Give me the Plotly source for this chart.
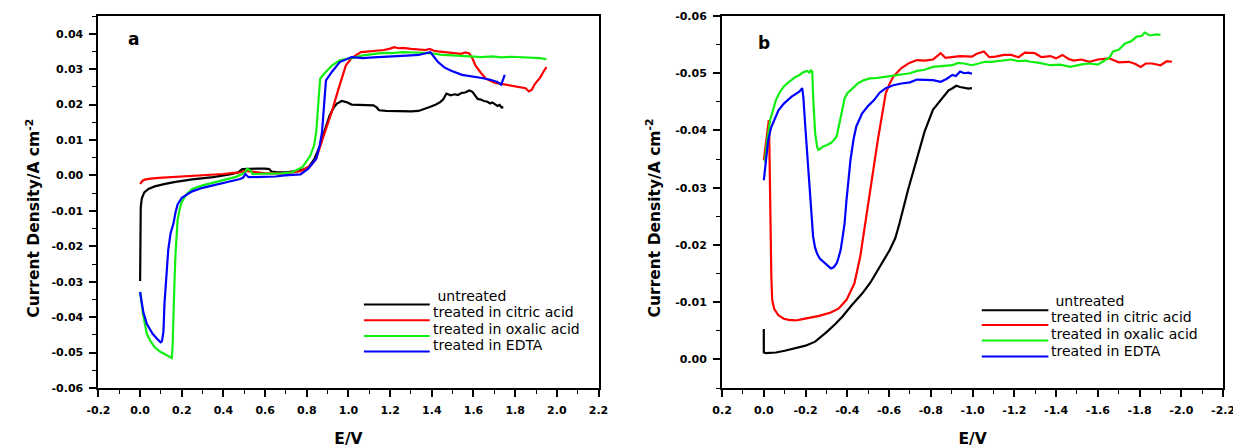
import plotly.graph_objects as go

# ---------------- data: panel a (anodic) ----------------
E_untreated_a = [0.0, 0.0, 0.001, 0.003, 0.008, 0.02, 0.04, 0.07, 0.12, 0.17, 0.25, 0.35, 0.43, 0.47, 0.49, 0.52, 0.56, 0.6, 0.62, 0.63, 0.66, 0.7, 0.75, 0.79, 0.81, 0.835, 0.85, 0.864, 0.883, 0.9, 0.91, 0.93, 0.945, 0.968, 0.99, 1.015, 1.05, 1.09, 1.12, 1.135, 1.147, 1.18, 1.22, 1.26, 1.3, 1.336, 1.36, 1.39, 1.42, 1.44, 1.455, 1.47, 1.49, 1.51, 1.525, 1.545, 1.56, 1.58, 1.595, 1.61, 1.62, 1.635, 1.65, 1.667, 1.68, 1.69, 1.705, 1.715, 1.725, 1.735, 1.743]
J_untreated_a = [-0.0298, -0.018, -0.012, -0.009, -0.0065, -0.0048, -0.0038, -0.0031, -0.0024, -0.0018, -0.0011, -0.0005, 0.0003, 0.0008, 0.0018, 0.0019, 0.0019, 0.0019, 0.0018, 0.0011, 0.0009, 0.0009, 0.0012, 0.0018, 0.0024, 0.0045, 0.0065, 0.0085, 0.0122, 0.015, 0.017, 0.0192, 0.0203, 0.021, 0.0207, 0.02, 0.0199, 0.0199, 0.0198, 0.0192, 0.0184, 0.0182, 0.0181, 0.0182, 0.0181, 0.0182, 0.0186, 0.0193, 0.02, 0.0207, 0.0215, 0.0231, 0.0226, 0.0229, 0.0227, 0.0233, 0.0234, 0.024, 0.0236, 0.0225, 0.0216, 0.0214, 0.021, 0.0208, 0.0203, 0.0206, 0.02, 0.0196, 0.0199, 0.0192, 0.0193]

E_citric_a = [0.0, 0.005, 0.012, 0.023, 0.05, 0.09, 0.15, 0.22, 0.3, 0.35, 0.4, 0.45, 0.48, 0.505, 0.54, 0.6, 0.69, 0.77, 0.82, 0.845, 0.88, 0.92, 0.95, 0.987, 1.015, 1.04, 1.06, 1.1, 1.14, 1.17, 1.2, 1.22, 1.24, 1.26, 1.3, 1.34, 1.37, 1.39, 1.41, 1.43, 1.47, 1.51, 1.54, 1.56, 1.58, 1.595, 1.61, 1.635, 1.66, 1.7, 1.755, 1.8, 1.83, 1.85, 1.866, 1.88, 1.894, 1.91, 1.92, 1.935, 1.95]
J_citric_a = [-0.0024, -0.0019, -0.0015, -0.0012, -0.0009, -0.0007, -0.0005, -0.0003, -0.0001, 0.0002, 0.0004, 0.0007, 0.0009, 0.0013, 0.001, 0.0006, 0.0006, 0.0012, 0.0028, 0.0047, 0.011, 0.018, 0.024, 0.031, 0.0331, 0.034, 0.0348, 0.035, 0.0352, 0.0354, 0.0358, 0.0362, 0.0359, 0.036, 0.0357, 0.0356, 0.0354, 0.0357, 0.0352, 0.035, 0.0347, 0.0346, 0.0343, 0.0347, 0.0344, 0.033, 0.031, 0.029, 0.0273, 0.0262, 0.0256, 0.0253, 0.025, 0.0246, 0.0237, 0.0242, 0.0258, 0.0268, 0.0276, 0.0292, 0.0306]

E_oxalic_a = [0.0, 0.015, 0.032, 0.05, 0.07, 0.095, 0.117, 0.135, 0.146, 0.152, 0.156, 0.16, 0.165, 0.17, 0.175, 0.18, 0.19, 0.2, 0.22, 0.25, 0.3, 0.38, 0.46, 0.49, 0.505, 0.514, 0.53, 0.54, 0.56, 0.618, 0.68, 0.73, 0.78, 0.817, 0.835, 0.845, 0.855, 0.864, 0.883, 0.9, 0.92, 0.958, 1.015, 1.07, 1.12, 1.166, 1.21, 1.26, 1.31, 1.374, 1.42, 1.45, 1.5, 1.545, 1.6, 1.64, 1.69, 1.733, 1.78, 1.83, 1.88, 1.92, 1.95]
J_oxalic_a = [-0.0329, -0.0395, -0.0447, -0.0468, -0.0485, -0.0497, -0.0504, -0.051, -0.0513, -0.0515, -0.048, -0.038, -0.03, -0.022, -0.016, -0.0125, -0.0095, -0.0075, -0.0055, -0.0038, -0.0028, -0.0016, -0.0004, 0.0004, 0.001, 0.0019, 0.0014, 0.0004, 0.0004, 0.0005, 0.0006, 0.0009, 0.0024, 0.0056, 0.0085, 0.0122, 0.02, 0.0273, 0.0287, 0.0297, 0.031, 0.0325, 0.0331, 0.0339, 0.0342, 0.0346, 0.0345, 0.0348, 0.0347, 0.0346, 0.0343, 0.034, 0.0339, 0.0337, 0.0335, 0.0334, 0.0336, 0.0333, 0.0335, 0.0334, 0.0333, 0.0331, 0.0328]

E_edta_a = [0.0, 0.015, 0.032, 0.06, 0.08, 0.098, 0.105, 0.112, 0.117, 0.122, 0.127, 0.135, 0.146, 0.16, 0.17, 0.18, 0.2, 0.25, 0.3, 0.35, 0.4, 0.45, 0.48, 0.495, 0.505, 0.52, 0.58, 0.65, 0.694, 0.77, 0.807, 0.845, 0.862, 0.873, 0.883, 0.892, 0.92, 0.958, 1.015, 1.07, 1.12, 1.166, 1.21, 1.26, 1.3, 1.336, 1.374, 1.393, 1.41, 1.43, 1.46, 1.49, 1.545, 1.6, 1.64, 1.68, 1.715, 1.733, 1.742, 1.75]
J_edta_a = [-0.0329, -0.0385, -0.0419, -0.0447, -0.046, -0.0471, -0.0468, -0.044, -0.0362, -0.031, -0.0258, -0.021, -0.0164, -0.0136, -0.0104, -0.0082, -0.0063, -0.0045, -0.0035, -0.0028, -0.0021, -0.0015, -0.001, -0.0006, 0.0004, -0.0005, -0.0005, -0.0003, 0.0, 0.0003, 0.0019, 0.0047, 0.0085, 0.0122, 0.02, 0.0268, 0.0292, 0.032, 0.0334, 0.0331, 0.0333, 0.0334, 0.0335, 0.0337, 0.0339, 0.034, 0.0344, 0.0348, 0.0335, 0.032, 0.0305, 0.0296, 0.0284, 0.028, 0.0275, 0.027, 0.0264, 0.0256, 0.027, 0.0284]

# ---------------- data: panel b (cathodic) ----------------
E_untreated_b = [0.0, 0.0, -0.01, -0.058, -0.1, -0.152, -0.2, -0.246, -0.27, -0.302, -0.34, -0.377, -0.42, -0.471, -0.51, -0.546, -0.575, -0.603, -0.63, -0.65, -0.69, -0.734, -0.77, -0.81, -0.847, -0.87, -0.885, -0.9, -0.922, -0.94, -0.96, -0.98, -0.997]
J_untreated_b = [-0.0053, -0.0012, -0.0011, -0.0012, -0.0015, -0.0019, -0.0024, -0.0031, -0.0038, -0.0048, -0.0061, -0.0075, -0.0094, -0.0115, -0.0134, -0.0156, -0.0172, -0.0191, -0.0212, -0.0238, -0.0295, -0.0354, -0.0398, -0.0436, -0.0453, -0.0462, -0.047, -0.0473, -0.0478, -0.0476, -0.0475, -0.0473, -0.0474]

E_citric_b = [0.0, -0.01, -0.018, -0.024, -0.026, -0.028, -0.03, -0.033, -0.036, -0.04, -0.05, -0.07, -0.096, -0.12, -0.152, -0.18, -0.208, -0.265, -0.321, -0.359, -0.396, -0.434, -0.462, -0.486, -0.509, -0.546, -0.584, -0.603, -0.622, -0.659, -0.697, -0.734, -0.77, -0.81, -0.83, -0.847, -0.87, -0.903, -0.94, -0.997, -1.02, -1.054, -1.08, -1.11, -1.15, -1.185, -1.22, -1.25, -1.298, -1.33, -1.373, -1.4, -1.43, -1.46, -1.485, -1.52, -1.56, -1.6, -1.654, -1.7, -1.748, -1.78, -1.805, -1.83, -1.86, -1.9, -1.93, -1.955]
J_citric_b = [-0.0348, -0.0375, -0.0405, -0.0418, -0.039, -0.033, -0.026, -0.019, -0.0145, -0.0104, -0.0088, -0.0077, -0.0071, -0.0069, -0.0068, -0.007, -0.0072, -0.0076, -0.0082, -0.0089, -0.0104, -0.0133, -0.018, -0.0238, -0.0302, -0.0383, -0.0465, -0.0482, -0.0495, -0.0509, -0.0518, -0.0523, -0.0522, -0.0524, -0.053, -0.0535, -0.0527, -0.0528, -0.053, -0.0529, -0.0534, -0.0538, -0.0528, -0.0529, -0.0532, -0.0532, -0.0528, -0.0536, -0.0535, -0.0528, -0.053, -0.0526, -0.0532, -0.0525, -0.0522, -0.0524, -0.052, -0.0524, -0.0526, -0.0519, -0.052, -0.0516, -0.0511, -0.0517, -0.0517, -0.0514, -0.0521, -0.052]

E_oxalic_b = [-0.005, -0.015, -0.03, -0.045, -0.058, -0.075, -0.096, -0.115, -0.133, -0.15, -0.171, -0.19, -0.208, -0.218, -0.225, -0.232, -0.237, -0.246, -0.255, -0.261, -0.27, -0.284, -0.3, -0.321, -0.335, -0.349, -0.358, -0.368, -0.387, -0.4, -0.415, -0.453, -0.48, -0.509, -0.545, -0.584, -0.62, -0.659, -0.7, -0.734, -0.77, -0.81, -0.85, -0.903, -0.93, -0.96, -0.997, -1.03, -1.06, -1.09, -1.13, -1.185, -1.22, -1.25, -1.279, -1.32, -1.373, -1.42, -1.467, -1.5, -1.53, -1.56, -1.6, -1.636, -1.655, -1.673, -1.7, -1.73, -1.76, -1.786, -1.81, -1.824, -1.85, -1.88, -1.9]
J_oxalic_b = [-0.0345, -0.038, -0.0418, -0.0438, -0.0453, -0.0466, -0.0477, -0.0483, -0.0488, -0.0493, -0.0497, -0.0502, -0.0504, -0.0501, -0.0505, -0.0503, -0.0453, -0.0395, -0.0372, -0.0366, -0.0368, -0.0372, -0.0374, -0.0378, -0.0383, -0.039, -0.0405, -0.0424, -0.0456, -0.0465, -0.047, -0.0483, -0.0488, -0.0491, -0.0492, -0.0494, -0.0497, -0.0499, -0.05, -0.0504, -0.0506, -0.0511, -0.0512, -0.0514, -0.0518, -0.0517, -0.0514, -0.0517, -0.052, -0.052, -0.0522, -0.0524, -0.0521, -0.0522, -0.052, -0.0518, -0.0514, -0.0515, -0.0511, -0.0514, -0.0516, -0.0517, -0.0515, -0.0523, -0.0527, -0.0538, -0.0541, -0.0552, -0.0556, -0.0564, -0.0565, -0.0571, -0.0566, -0.0568, -0.0567]

E_edta_b = [0.0, -0.01, -0.021, -0.035, -0.049, -0.07, -0.096, -0.115, -0.133, -0.15, -0.171, -0.184, -0.19, -0.2, -0.21, -0.22, -0.227, -0.236, -0.245, -0.255, -0.268, -0.284, -0.3, -0.321, -0.335, -0.349, -0.358, -0.368, -0.378, -0.387, -0.396, -0.405, -0.415, -0.43, -0.443, -0.471, -0.5, -0.528, -0.555, -0.584, -0.62, -0.659, -0.7, -0.734, -0.77, -0.81, -0.847, -0.875, -0.903, -0.92, -0.94, -0.96, -0.98, -0.997]
J_edta_b = [-0.0313, -0.035, -0.0383, -0.0405, -0.0418, -0.0435, -0.0447, -0.0454, -0.0459, -0.0463, -0.0468, -0.0474, -0.0455, -0.04, -0.0345, -0.029, -0.0255, -0.0215, -0.0196, -0.0185, -0.0176, -0.0171, -0.0165, -0.0159, -0.0161, -0.0168, -0.0178, -0.0191, -0.0215, -0.0238, -0.0278, -0.0315, -0.0348, -0.0385, -0.0407, -0.043, -0.0443, -0.0453, -0.0466, -0.0474, -0.0479, -0.0482, -0.0484, -0.0489, -0.0488, -0.0488, -0.0485, -0.049, -0.0497, -0.0495, -0.0503, -0.05, -0.0501, -0.0499]

series_names = ["untreated", "treated in citric acid", "treated in oxalic acid", "treated in EDTA"]
series_colors = ["#000000", "#ff0000", "#11ee11", "#0000ff"]

# ---------------- ticks ----------------
x_ticks_a = [-0.2, 0.0, 0.2, 0.4, 0.6, 0.8, 1.0, 1.2, 1.4, 1.6, 1.8, 2.0, 2.2]
x_labels_a = ["-0.2", "0.0", "0.2", "0.4", "0.6", "0.8", "1.0", "1.2", "1.4", "1.6", "1.8", "2.0", "2.2"]
y_ticks_a = [-0.06, -0.05, -0.04, -0.03, -0.02, -0.01, 0.0, 0.01, 0.02, 0.03, 0.04]
y_labels_a = ["-0.06", "-0.05", "-0.04", "-0.03", "-0.02", "-0.01", "0.00", "0.01", "0.02", "0.03", "0.04"]
x_ticks_b = [0.2, 0.0, -0.2, -0.4, -0.6, -0.8, -1.0, -1.2, -1.4, -1.6, -1.8, -2.0, -2.2]
x_labels_b = ["0.2", "0.0", "-0.2", "-0.4", "-0.6", "-0.8", "-1.0", "-1.2", "-1.4", "-1.6", "-1.8", "-2.0", "-2.2"]
y_ticks_b = [0.0, -0.01, -0.02, -0.03, -0.04, -0.05, -0.06]
y_labels_b = ["0.00", "-0.01", "-0.02", "-0.03", "-0.04", "-0.05", "-0.06"]

panel_a = [(E_untreated_a, J_untreated_a), (E_citric_a, J_citric_a), (E_oxalic_a, J_oxalic_a), (E_edta_a, J_edta_a)]
panel_b = [(E_untreated_b, J_untreated_b), (E_citric_b, J_citric_b), (E_oxalic_b, J_oxalic_b), (E_edta_b, J_edta_b)]

fig = go.Figure()
for (E, J), name, col in zip(panel_a, series_names, series_colors):
    fig.add_trace(go.Scatter(x=E, y=J, mode="lines", name=name, line=dict(color=col, width=2.2),
                             xaxis="x", yaxis="y", showlegend=False))
for (E, J), name, col in zip(panel_b, series_names, series_colors):
    fig.add_trace(go.Scatter(x=E, y=J, mode="lines", name=name, line=dict(color=col, width=2.2),
                             xaxis="x2", yaxis="y2", showlegend=False))

tick_font = dict(family="DejaVu Sans", size=11, color="black", weight="bold")
title_font = dict(family="DejaVu Sans", size=15.5, color="black", weight="bold")


def axis_style(tickvals, ticktext, minor_dtick, rng, domain, anchor, title, standoff):
    d = dict(
        domain=domain, anchor=anchor, range=rng, autorange=False,
        tickmode="array", tickvals=tickvals, ticktext=ticktext,
        showline=True, linecolor="black", linewidth=2, mirror=True,
        ticks="outside", ticklen=7, tickwidth=1.5, tickcolor="black",
        ticklabelstandoff=4,
        minor=dict(tickmode="linear", tick0=0, dtick=minor_dtick, ticks="outside",
                   ticklen=4, tickwidth=1.3, tickcolor="black", showgrid=False),
        showgrid=False, zeroline=False, tickfont=tick_font,
    )
    if title:
        d["title"] = dict(text=title, font=title_font, standoff=standoff)
    return d


# the page body adds an 8px offset, so the figure is laid out 8px smaller
FIG_W, FIG_H = 1233, 440
dom_a = [80 / FIG_W, 590 / FIG_W]
dom_b = [716 / FIG_W, 1227 / FIG_W]
ytitle = "Current Density/A cm<sup>-2</sup>"

xa2 = axis_style(x_ticks_b, x_labels_b, 0.1, [0.2, -2.2], dom_b, "y2", "E/V", 17)
xa2["ticklabeloverflow"] = "allow"

fig.update_layout(
    width=FIG_W, height=FIG_H, autosize=False,
    margin=dict(l=0, r=0, t=8, b=60),
    paper_bgcolor="white", plot_bgcolor="white",
    xaxis=axis_style(x_ticks_a, x_labels_a, 0.1, [-0.2, 2.2], dom_a, "y", "E/V", 17),
    yaxis=axis_style(y_ticks_a, y_labels_a, 0.005, [-0.06, 0.045], [0, 1], "x", None, 0),
    xaxis2=xa2,
    yaxis2=axis_style(y_ticks_b, y_labels_b, 0.005, [0.005, -0.06], [0, 1], "x2", None, 0),
)

# y-axis titles (sit a little below the axis centre, as in the original)
for xp in (14 / FIG_W, 647 / FIG_W):
    fig.add_annotation(x=xp, y=0.457, xref="paper", yref="paper", text=ytitle, textangle=-90,
                       showarrow=False, xanchor="center", yanchor="middle", font=title_font)

# panel letters
fig.add_annotation(x=-0.03, y=0.0384, xref="x", yref="y", text="<b>a</b>", showarrow=False,
                   font=dict(family="DejaVu Sans", size=17, color="black"))
fig.add_annotation(x=-0.002, y=-0.0552, xref="x2", yref="y2", text="<b>b</b>", showarrow=False,
                   font=dict(family="DejaVu Sans", size=17, color="black"))

# hand-built legends (line sample below-left of the label)
leg_font = dict(family="DejaVu Sans", size=14, color="black")
leg_a_line_y = [-0.0364, -0.0409, -0.0453, -0.0497]
leg_a_text_y = [-0.0340, -0.03865, -0.0433, -0.04796]
leg_b_line_y = [-0.0086, -0.0060, -0.0033, -0.0005]
leg_b_text_y = [-0.0102, -0.00732, -0.00443, -0.00155]
for i, (name, col) in enumerate(zip(series_names, series_colors)):
    label = (" " + name) if i == 0 else name
    fig.add_shape(type="line", xref="x", yref="y", x0=1.074, x1=1.39,
                  y0=leg_a_line_y[i], y1=leg_a_line_y[i], line=dict(color=col, width=2))
    fig.add_annotation(x=1.40, y=leg_a_text_y[i], xref="x", yref="y", text=label,
                       showarrow=False, xanchor="left", yanchor="middle", font=leg_font,
                       borderpad=0)
    fig.add_shape(type="line", xref="x2", yref="y2", x0=-1.044, x1=-1.363,
                  y0=leg_b_line_y[i], y1=leg_b_line_y[i], line=dict(color=col, width=2))
    fig.add_annotation(x=-1.373, y=leg_b_text_y[i], xref="x2", yref="y2", text=label,
                       showarrow=False, xanchor="left", yanchor="middle", font=leg_font,
                       borderpad=0)

fig.write_html("out.html")
